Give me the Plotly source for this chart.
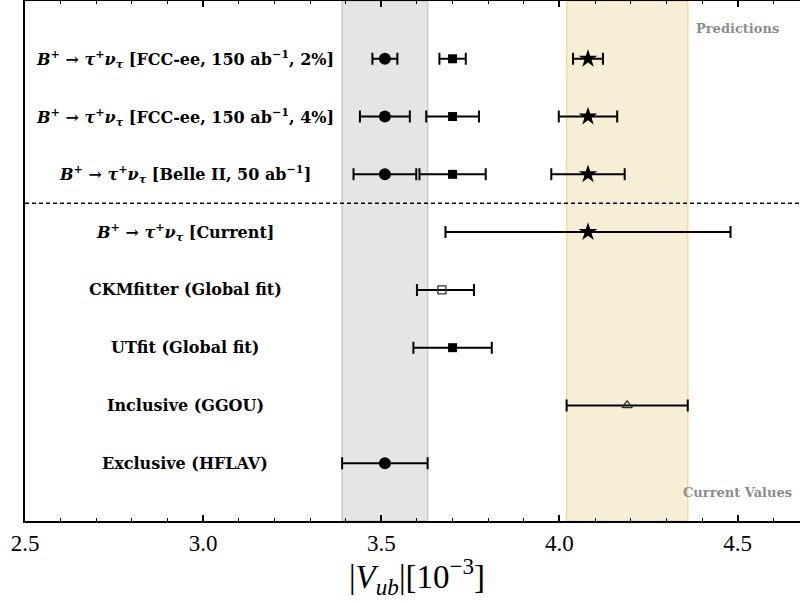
import plotly.graph_objects as go

# ---- data ----
labels = [
    "Exclusive (HFLAV)",
    "Inclusive (GGOU)",
    "UTfit (Global fit)",
    "CKMfitter (Global fit)",
    "<i>B</i><sup>+</sup> → <i>τ</i><sup>+</sup><i>ν<sub>τ</sub></i> [Current]",
    "<i>B</i><sup>+</sup> → <i>τ</i><sup>+</sup><i>ν<sub>τ</sub></i> [Belle II, 50 ab<sup>−1</sup>]",
    "<i>B</i><sup>+</sup> → <i>τ</i><sup>+</sup><i>ν<sub>τ</sub></i> [FCC-ee, 150 ab<sup>−1</sup>, 4%]",
    "<i>B</i><sup>+</sup> → <i>τ</i><sup>+</sup><i>ν<sub>τ</sub></i> [FCC-ee, 150 ab<sup>−1</sup>, 2%]",
]
rows = [0, 1, 2, 3, 4, 5, 6, 7]

# current values
excl_val, excl_err = 3.51, 0.12
incl_val, incl_err = 4.19, 0.17
utfit_val, utfit_err = 3.70, 0.11
ckm_val, ckm_err_plus, ckm_err_minus = 3.67, 0.09, 0.07
btau_val, btau_err = 4.08, 0.40

# predictions (rows: Belle II, FCC 4%, FCC 2%)
pred_rows = [5, 6, 7]
pred_circle_val = [3.51, 3.51, 3.51]
pred_circle_err = [0.088, 0.070, 0.035]
pred_square_val = [3.70, 3.70, 3.70]
pred_square_err = [0.093, 0.074, 0.037]
pred_star_val = [4.08, 4.08, 4.08]
pred_star_err = [0.103, 0.082, 0.042]

x_min, x_max = 2.5, 4.675
y_min, y_max = -1, 8

fig = go.Figure()

err_style = dict(color="black", thickness=2, width=6)

# bands
fig.add_vrect(x0=excl_val - excl_err, x1=excl_val + excl_err, fillcolor="#e5e5e5",
              line=dict(color="#c9c9c9", width=1.5), layer="below")
fig.add_vrect(x0=incl_val - incl_err, x1=incl_val + incl_err, fillcolor="#f7efd5",
              line=dict(color="#efdc9e", width=1.5), layer="below")

def add(xs, ys, err, symbol, size, filled=True, err_minus=None, edge="black"):
    ex = dict(type="data", array=err, visible=True, **err_style)
    if err_minus is not None:
        ex["symmetric"] = False
        ex["arrayminus"] = err_minus
    fig.add_trace(go.Scatter(
        x=xs, y=ys, mode="markers", error_x=ex, showlegend=False, hoverinfo="skip",
        marker=dict(symbol=symbol, size=size,
                    color="black" if filled else "rgba(0,0,0,0)",
                    line=dict(color=edge, width=0 if filled else 1.3)),
    ))

add([excl_val], [0], [excl_err], "circle", 12)
add([incl_val], [1], [incl_err], "triangle-up", 9, filled=False, edge="#333333")
add([utfit_val], [2], [utfit_err], "square", 9)
add([ckm_val], [3], [ckm_err_plus], "square", 8, filled=False, err_minus=[ckm_err_minus], edge="#333333")
add([btau_val], [4], [btau_err], "star", 14)

add(pred_circle_val, pred_rows, pred_circle_err, "circle", 12)
add(pred_square_val, pred_rows, pred_square_err, "square", 9)
add(pred_star_val, pred_rows, pred_star_err, "star", 14)

# separator
fig.add_shape(type="line", xref="paper", x0=0, x1=1, y0=4.5, y1=4.5,
              line=dict(color="black", width=1.5, dash="4px,3px"))

label_font = dict(family="DejaVu Serif", size=16, color="black")
for lab, r in zip(labels, rows):
    fig.add_annotation(x=2.95, y=r, text="<b>" + lab + "</b>", showarrow=False,
                       xanchor="center", yanchor="middle", font=label_font)

grey_font = dict(family="DejaVu Serif", size=13, color="#8c8c8c")
fig.add_annotation(x=4.5, y=7.53, text="<b>Predictions</b>", showarrow=False,
                   xanchor="center", yanchor="middle", font=grey_font)
fig.add_annotation(x=4.5, y=-0.5, text="<b>Current Values</b>", showarrow=False,
                   xanchor="center", yanchor="middle", font=grey_font)

# x-axis title
fig.add_annotation(x=3.6, y=0, yref="paper", yshift=-55, text="|<i>V<sub>ub</sub></i>|[10<sup>−3</sup>]",
                   showarrow=False, xanchor="center", yanchor="middle",
                   font=dict(family="Liberation Serif", size=33, color="black"))

fig.update_layout(
    width=800, height=603,
    margin=dict(l=25, r=0, t=1, b=82),
    plot_bgcolor="white", paper_bgcolor="white",
    xaxis=dict(range=[x_min, x_max], tickvals=[2.5, 3.0, 3.5, 4.0, 4.5],
               ticktext=["2.5", "3.0", "3.5", "4.0", "4.5"],
               ticks="inside", ticklen=6, tickwidth=1.5, tickcolor="black",
               minor=dict(dtick=0.1, tick0=2.5, ticks="inside", ticklen=3, tickwidth=1.2, tickcolor="black"),
               showline=True, linecolor="black", linewidth=2, mirror="ticks",
               showgrid=False, zeroline=False,
               tickfont=dict(family="Liberation Serif", size=23, color="black")),
    yaxis=dict(range=[y_min, y_max], showticklabels=False, ticks="",
               showline=True, linecolor="black", linewidth=2, mirror=False,
               showgrid=False, zeroline=False),
)

fig.write_html("out.html", config={"displayModeBar": False},
               post_script="document.body.style.margin='0';")
